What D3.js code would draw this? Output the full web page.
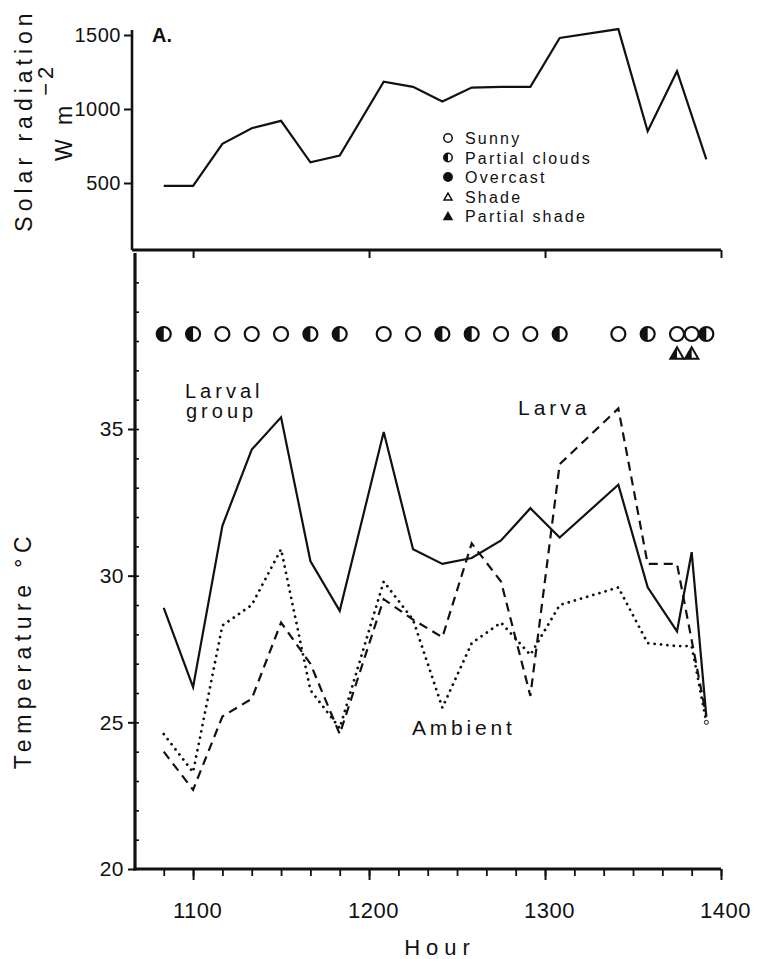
<!DOCTYPE html>
<html>
<head>
<meta charset="utf-8">
<script src="https://cdn.jsdelivr.net/npm/d3@7"></script>
<style>
  body { margin: 0; background: #fff; }
  svg { display: block; }
  text { font-family: "Liberation Sans", Arial, sans-serif; fill: #111; }
</style>
</head>
<body>
<svg id="chart" width="760" height="959"></svg>
<script>
// Observation times (clock hour, hhmm)
const hours = ["1050","1100","1110","1120","1130","1140","1150","1205","1215","1225",
               "1235","1245","1255","1305","1325","1335","1345","1350","1355"];
// Sky condition at each observation
const sky = ["partial","partial","sunny","sunny","sunny","partial","partial","sunny","sunny","partial",
             "partial","sunny","sunny","partial","sunny","partial","sunny","sunny","partial"];
// Observations made in partial shade
const shadeHours = ["1345","1350"];

// Solar radiation, W m-2
const solarHours = ["1050","1100","1110","1120","1130","1140","1150","1205","1215","1225",
                    "1235","1245","1255","1305","1325","1335","1345","1355"];
const solar = [480, 480, 765, 870, 920, 640, 685, 1185, 1150, 1050,
               1145, 1150, 1150, 1480, 1540, 850, 1255, 660];

// Temperatures, deg C
const larvalGroup = [28.9, 26.2, 31.7, 34.3, 35.4, 30.5, 28.8, 34.9, 30.9, 30.4,
                     30.6, 31.2, 32.3, 31.3, 33.1, 29.6, 28.1, 30.8, 25.2];
const larvaHours = ["1050","1100","1110","1120","1130","1140","1150","1205","1215","1225",
                    "1235","1245","1255","1305","1325","1335","1345","1355"];
const larva = [24.0, 22.7, 25.2, 25.8, 28.4, 27.0, 24.6, 29.2, 28.5, 27.9,
               31.1, 29.8, 25.9, 33.8, 35.7, 30.4, 30.4, 25.2];
const ambient = [24.6, 23.3, 28.3, 29.0, 30.9, 26.1, 24.8, 29.8, 28.5, 25.5,
                 27.7, 28.4, 27.3, 29.0, 29.6, 27.7, 27.6, 27.6, 25.0];

const radTicks = [500, 1000, 1500];
const tempTicks = [20, 25, 30, 35];
const tempMinor = d3.range(21, 41);
const hourTicks = ["1100","1200","1300","1400"];
const minorHourTicks = ["1050","1100","1110","1120","1130","1140","1150","1200","1210","1220","1230","1240","1250",
                        "1300","1310","1320","1330","1340","1350","1400"];

const legendItems = [
  { key: "sunny", label: "Sunny" },
  { key: "partial", label: "Partial clouds" },
  { key: "overcast", label: "Overcast" },
  { key: "shade", label: "Shade" },
  { key: "pshade", label: "Partial shade" }
];

// minutes after 10:00
const toMin = h => Math.floor(+h / 100) * 60 + (+h % 100) - 600;

const svg = d3.select("#chart");
const ink = "#111";

const x = d3.scaleLinear().domain([40.2, 240]).range([135, 721]);
const yRad = d3.scaleLinear().domain([500, 1500]).range([183, 35]);
const yTemp = d3.scaleLinear().domain([20, 35]).range([869, 429]);

const topPanel = { top: 30, bottom: 250, left: 132 };
const lowPanel = { top: 253, bottom: 869, left: 135 };

/* ---------- upper panel: solar radiation ---------- */
const gTop = svg.append("g");

gTop.append("line")
  .attr("x1", topPanel.left).attr("x2", topPanel.left)
  .attr("y1", topPanel.top).attr("y2", topPanel.bottom)
  .attr("stroke", ink).attr("stroke-width", 2.6);

const radAxis = gTop.append("g")
  .attr("transform", `translate(${topPanel.left},0)`)
  .call(d3.axisLeft(yRad).tickValues(radTicks).tickSize(8).tickPadding(3).tickFormat(d3.format("d")));
radAxis.select(".domain").remove();
radAxis.selectAll("line").attr("stroke", ink).attr("stroke-width", 2);
radAxis.selectAll("text").attr("font-size", 20).attr("letter-spacing", 0.5)
  .attr("font-family", "'Liberation Sans', Arial, sans-serif").attr("fill", ink);

// baseline between the panels with hour ticks
gTop.append("line")
  .attr("x1", topPanel.left).attr("x2", x(240))
  .attr("y1", topPanel.bottom).attr("y2", topPanel.bottom)
  .attr("stroke", ink).attr("stroke-width", 3);
const topHourAxis = gTop.append("g")
  .attr("transform", `translate(0,${topPanel.bottom})`)
  .call(d3.axisBottom(x).tickValues(hourTicks.map(toMin)).tickSize(8).tickFormat(""));
topHourAxis.select(".domain").remove();
topHourAxis.selectAll("line").attr("stroke", ink).attr("stroke-width", 2);

const solarLine = d3.line()
  .x((d, i) => x(toMin(solarHours[i])))
  .y(d => yRad(d));
gTop.append("path")
  .datum(solar)
  .attr("d", solarLine)
  .attr("fill", "none").attr("stroke", ink).attr("stroke-width", 2.2)
  .attr("stroke-linejoin", "miter");

gTop.append("text")
  .attr("x", 152).attr("y", 42)
  .attr("font-size", 20).attr("font-weight", "bold")
  .text("A.");

// Y title: Solar radiation, W m-2
svg.append("text")
  .attr("transform", "translate(32,120) rotate(-90)")
  .attr("text-anchor", "middle")
  .attr("font-size", 23).attr("letter-spacing", 5)
  .text("Solar radiation");
const unit = svg.append("text")
  .attr("transform", "translate(72,161) rotate(-90)")
  .attr("font-size", 23).attr("letter-spacing", 4);
unit.append("tspan").text("W m");
unit.append("tspan").attr("dy", -19).attr("dx", 6).attr("font-size", 22).text("−2");

// legend
const legend = svg.append("g").attr("transform", "translate(448,138)");
legendItems.forEach((it, i) => {
  const g = legend.append("g").attr("transform", `translate(0,${i * 19.5})`);
  drawSymbol(g, it.key, 0, 0, 4.2, 1.5);
  g.append("text")
    .attr("x", 17).attr("y", 6)
    .attr("font-size", 16).attr("letter-spacing", 2.2)
    .text(it.label);
});

/* ---------- lower panel: temperatures ---------- */
const gLow = svg.append("g");

gLow.append("line")
  .attr("x1", lowPanel.left).attr("x2", lowPanel.left)
  .attr("y1", lowPanel.top).attr("y2", lowPanel.bottom + 1.5)
  .attr("stroke", ink).attr("stroke-width", 3.2);
gLow.append("line")
  .attr("x1", lowPanel.left - 1.5).attr("x2", x(240))
  .attr("y1", lowPanel.bottom).attr("y2", lowPanel.bottom)
  .attr("stroke", ink).attr("stroke-width", 3.2);

const tempMinorAxis = gLow.append("g")
  .attr("transform", `translate(${lowPanel.left},0)`)
  .call(d3.axisRight(yTemp).tickValues(tempMinor).tickSize(4).tickFormat(""));
tempMinorAxis.select(".domain").remove();
tempMinorAxis.selectAll("line").attr("stroke", ink).attr("stroke-width", 1.6);

const tempAxis = gLow.append("g")
  .attr("transform", `translate(${lowPanel.left},0)`)
  .call(d3.axisLeft(yTemp).tickValues(tempTicks).tickSize(7).tickPadding(4).tickFormat(d3.format("d")));
tempAxis.select(".domain").remove();
tempAxis.selectAll("line").attr("stroke", ink).attr("stroke-width", 2);
tempAxis.selectAll("text").attr("font-size", 21).attr("letter-spacing", 0.5)
  .attr("font-family", "'Liberation Sans', Arial, sans-serif").attr("fill", ink);

const hourMinorAxis = gLow.append("g")
  .attr("transform", `translate(0,${lowPanel.bottom})`)
  .call(d3.axisBottom(x).tickValues(minorHourTicks.map(toMin)).tickSize(7).tickFormat(""));
hourMinorAxis.select(".domain").remove();
hourMinorAxis.selectAll("line").attr("stroke", ink).attr("stroke-width", 1.8);

const hourAxis = gLow.append("g")
  .attr("transform", `translate(0,${lowPanel.bottom})`)
  .call(d3.axisBottom(x).tickValues(hourTicks.map(toMin)).tickSize(11).tickPadding(22)
    .tickFormat(m => hourTicks[[60, 120, 180, 240].indexOf(m)]));
hourAxis.select(".domain").remove();
hourAxis.selectAll("line").attr("stroke", ink).attr("stroke-width", 2);
hourAxis.selectAll("text").attr("font-size", 22).attr("letter-spacing", 0.5).attr("dx", 4)
  .attr("font-family", "'Liberation Sans', Arial, sans-serif").attr("fill", ink);

svg.append("text")
  .attr("x", 440).attr("y", 955)
  .attr("text-anchor", "middle")
  .attr("font-size", 22).attr("letter-spacing", 6)
  .text("Hour");

svg.append("text")
  .attr("transform", "translate(31,650) rotate(-90)")
  .attr("text-anchor", "middle")
  .attr("font-size", 23).attr("letter-spacing", 5.5)
  .text("Temperature  °C");

// temperature series
const lineOf = hs => d3.line().x((d, i) => x(toMin(hs[i]))).y(d => yTemp(d));

gLow.append("path").datum(ambient)
  .attr("d", lineOf(hours))
  .attr("fill", "none").attr("stroke", ink).attr("stroke-width", 2.8)
  .attr("stroke-linecap", "round").attr("stroke-dasharray", "0.01 6.4");

gLow.append("path").datum(larva)
  .attr("d", lineOf(larvaHours))
  .attr("fill", "none").attr("stroke", ink).attr("stroke-width", 2.2)
  .attr("stroke-dasharray", "9 6");

gLow.append("path").datum(larvalGroup)
  .attr("d", lineOf(hours))
  .attr("fill", "none").attr("stroke", ink).attr("stroke-width", 2.2);

// small open marker at the last ambient reading
gLow.append("circle")
  .attr("cx", x(toMin(hours[hours.length - 1])))
  .attr("cy", yTemp(ambient[ambient.length - 1]))
  .attr("r", 2).attr("fill", "#fff").attr("stroke", ink).attr("stroke-width", 1);

// series labels
gLow.append("text").attr("x", 185).attr("y", 398)
  .attr("font-size", 20).attr("letter-spacing", 4).text("Larval");
gLow.append("text").attr("x", 186).attr("y", 418)
  .attr("font-size", 20).attr("letter-spacing", 4).text("group");
gLow.append("text").attr("x", 518).attr("y", 415)
  .attr("font-size", 21).attr("letter-spacing", 4).text("Larva");
gLow.append("text").attr("x", 412).attr("y", 735)
  .attr("font-size", 21).attr("letter-spacing", 3.8).text("Ambient");

// sky condition row and shade markers
const skyRowY = 334, shadeRowY = 353;
hours.forEach((h, i) => drawSymbol(gLow, sky[i], x(toMin(h)), skyRowY, 7, 2.2));
shadeHours.forEach(h => drawSymbol(gLow, "pshadeHalf", x(toMin(h)), shadeRowY, 7, 2));

function drawSymbol(g, key, cx, cy, r, sw) {
  if (key === "sunny" || key === "partial" || key === "overcast") {
    g.append("circle").attr("cx", cx).attr("cy", cy).attr("r", r)
      .attr("fill", key === "overcast" ? ink : "#fff")
      .attr("stroke", ink).attr("stroke-width", sw);
    if (key === "partial") {
      const p = d3.path();
      p.moveTo(cx, cy - r);
      p.arc(cx, cy, r, -Math.PI / 2, Math.PI / 2, true);
      p.closePath();
      g.append("path").attr("d", p.toString()).attr("fill", ink);
    }
  } else {
    const s = r * 1.9, h = s * 0.87;
    const tri = [[cx, cy - h / 2], [cx + s / 2, cy + h / 2], [cx - s / 2, cy + h / 2]];
    g.append("path")
      .attr("d", d3.line()(tri) + "Z")
      .attr("fill", key === "pshade" ? ink : "#fff")
      .attr("stroke", ink).attr("stroke-width", sw).attr("stroke-linejoin", "miter");
    if (key === "pshadeHalf") {
      const half = [[cx, cy - h / 2], [cx, cy + h / 2], [cx - s / 2, cy + h / 2]];
      g.append("path").attr("d", d3.line()(half) + "Z").attr("fill", ink);
    }
  }
}
</script>
</body>
</html>
